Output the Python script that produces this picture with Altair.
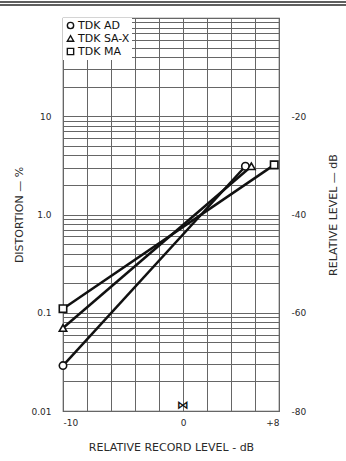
import altair as alt
import pandas as pd

# ---- data ----
tapes = ["TDK AD", "TDK SA-X", "TDK MA"]
shapes = ["circle", "triangle-up", "square"]
ad_x = [-10, 5.2]
ad_y = [0.029, 3.1]
sax_x = [-10, 5.7]
sax_y = [0.07, 3.1]
ma_x = [-10, 7.6]
ma_y = [0.11, 3.2]

x_grid = [-10, -8, -6, -4, -2, 0, 2, 4, 6, 8]
y_grid = [round(m * 10 ** e, 6) for e in range(-2, 2) for m in range(1, 10)] + [100]
right_db_ticks = [-20, -40, -60, -80]
ref_mark_x = [0]

rows = []
for name, xs, ys in [(tapes[0], ad_x, ad_y), (tapes[1], sax_x, sax_y), (tapes[2], ma_x, ma_y)]:
    for xv, yv in zip(xs, ys):
        rows.append({"tape": name, "level": xv, "dist": yv})
df = pd.DataFrame(rows)
db_df = pd.DataFrame({"db": [-80, 0], "level": [-10, -10]})
mark_df = pd.DataFrame({"level": ref_mark_x, "dist": [0.01]})

FONT = "DejaVu Sans"
INK = "#2a2a2a"

xscale = alt.Scale(domain=[-10, 8], nice=False, zero=False)
yscale = alt.Scale(type="log", domain=[0.01, 100], nice=False)

x_axis = alt.Axis(
    values=x_grid, tickCount=len(x_grid) + 2, grid=True, ticks=False, domain=False, labelOverlap=False,
    labelExpr="datum.value == -10 ? '-10' : datum.value == 0 ? '0' : datum.value == 8 ? '+8' : ''",
    title="RELATIVE RECORD LEVEL  - dB", labelPadding=7, titlePadding=14,
    labelFontSize=9, titleFontSize=11, titleFontWeight="normal",
    labelColor=INK, titleColor=INK, labelFont=FONT, titleFont=FONT,
    gridColor="#666", gridWidth=1,
)
y_axis = alt.Axis(
    values=y_grid, tickCount=len(y_grid) + 2, grid=True, ticks=False, domain=False, labelOverlap=False,
    labelExpr="datum.value == 0.01 ? '0.01' : datum.value == 0.1 ? '0.1' : datum.value == 1 ? '1.0' : datum.value == 10 ? '10' : ''",
    title="DISTORTION — %", labelPadding=12, titlePadding=6,
    labelFontSize=9, titleFontSize=11, titleFontWeight="normal",
    labelColor=INK, titleColor=INK, labelFont=FONT, titleFont=FONT,
    gridColor="#666", gridWidth=1,
)

base = alt.Chart(df)

lines = base.mark_line(color="#111", strokeWidth=2.5).encode(
    x=alt.X("level:Q", scale=xscale, axis=x_axis),
    y=alt.Y("dist:Q", scale=yscale, axis=y_axis),
    detail="tape:N",
)

points = base.mark_point(filled=False, color="#111", fill="white", fillOpacity=1, strokeWidth=1.6, size=55).encode(
    x=alt.X("level:Q", scale=xscale),
    y=alt.Y("dist:Q", scale=yscale),
    shape=alt.Shape(
        "tape:N",
        scale=alt.Scale(domain=tapes, range=shapes),
        legend=alt.Legend(
            title=None, orient="top-left", offset=0, padding=2,
            fillColor="white", labelFontSize=11, labelFont=FONT, labelColor="#111",
            symbolSize=40, symbolStrokeWidth=1.4, rowPadding=0, labelOffset=2,
        ),
    ),
)

refmark = alt.Chart(mark_df).mark_text(text="⋈", fontSize=12, fontWeight="bold", baseline="bottom", dy=1, color="#111", font=FONT).encode(
    x=alt.X("level:Q", scale=xscale),
    y=alt.Y("dist:Q", scale=yscale),
)

left = alt.layer(lines, points, refmark)

right = alt.Chart(db_df).mark_point(opacity=0).encode(
    x=alt.X("level:Q", scale=xscale),
    y=alt.Y(
        "db:Q",
        scale=alt.Scale(domain=[-80, 0], nice=False),
        axis=alt.Axis(
            orient="right", values=right_db_ticks, grid=False, ticks=False, domain=False,
            labelExpr="'-' + format(abs(datum.value), 'd')",
            title="RELATIVE LEVEL — dB", titleAngle=270, labelPadding=12, titlePadding=33,
            labelFontSize=9, titleFontSize=11, titleFontWeight="normal",
            labelColor=INK, titleColor=INK, labelFont=FONT, titleFont=FONT,
        ),
    ),
)

border = alt.Chart(db_df).mark_rule(color="#555", strokeWidth=1.5, clip=False).encode(
    x=alt.value(-63), x2=alt.value(283), y=alt.value(-16)
)
border2 = alt.Chart(db_df).mark_rule(color="#555", strokeWidth=1.5, clip=False).encode(
    x=alt.value(-63), x2=alt.value(283), y=alt.value(-13)
)

chart = alt.layer(left, right, border, border2).resolve_scale(y="independent").properties(
    width=216, height=393,
    padding={"left": 63, "top": 18, "right": 67, "bottom": 50},
    autosize=alt.AutoSizeParams(type="none"),
    background="white",
).configure_view(stroke="#555", strokeWidth=1.2)

chart.save("out.html", embed_options={"renderer": "svg", "actions": False})
